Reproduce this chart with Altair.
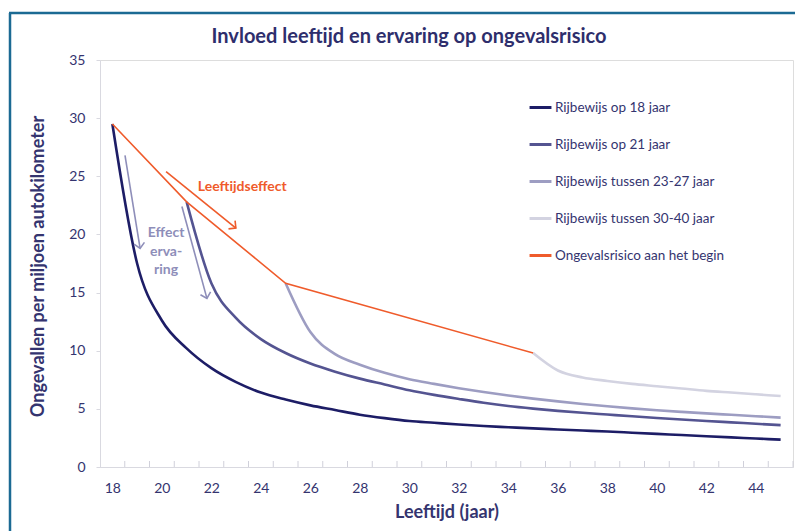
import altair as alt
import pandas as pd

# ---- data ----
series_names = [
    "Rijbewijs op 18 jaar",
    "Rijbewijs op 21 jaar",
    "Rijbewijs tussen 23-27 jaar",
    "Rijbewijs tussen 30-40 jaar",
    "Ongevalsrisico aan het begin",
]
series_colors = ["#1d1d66", "#545491", "#9d9dc2", "#d3d3e1", "#ef5b2b"]

ages_18 = list(range(18, 46))
risk_18 = [29.5, 17.5, 12.6, 10.2, 8.5, 7.3, 6.4, 5.8, 5.3, 4.9, 4.5, 4.2, 3.95,
           3.8, 3.65, 3.52, 3.42, 3.32, 3.23, 3.14, 3.05, 2.95, 2.85, 2.75, 2.65,
           2.55, 2.45, 2.35]

ages_21 = list(range(21, 46))
risk_21 = [22.8, 15.8, 12.8, 11.0, 9.8, 8.9, 8.2, 7.6, 7.1, 6.6, 6.2, 5.85, 5.52,
           5.24, 5.02, 4.83, 4.66, 4.51, 4.36, 4.22, 4.09, 3.96, 3.84, 3.72, 3.6]

ages_25 = list(range(25, 46))
risk_25 = [15.8, 11.6, 9.7, 8.8, 8.1, 7.55, 7.15, 6.78, 6.45, 6.15, 5.88, 5.64, 5.42,
           5.22, 5.04, 4.88, 4.74, 4.61, 4.49, 4.37, 4.25]

ages_35 = list(range(35, 46))
risk_35 = [9.8, 8.3, 7.7, 7.4, 7.15, 6.95, 6.75, 6.55, 6.4, 6.25, 6.1]

ages_begin = [18, 21, 25, 35]
risk_begin = [29.5, 22.8, 15.8, 9.8]

x_label_values = list(range(18, 45, 2))
x_tick_bounds = [a + 0.5 for a in range(18, 46)]
y_tick_values = [0, 5, 10, 15, 20, 25, 30, 35]

chart_title = "Invloed leeftijd en ervaring op ongevalsrisico"

# annotation arrows (start age, start value, end age, end value, colour group)
arrow_x1 = [20.17, 18.51, 20.81]
arrow_y1 = [25.4, 26.8, 22.4]
arrow_x2 = [22.99, 19.12, 21.82]
arrow_y2 = [20.55, 18.8, 14.5]
arrow_angle = [128.7, 170.8, 164.6]
arrow_group = ["leeftijd", "ervaring", "ervaring"]

NAVY = "#34346f"
ORANGE = "#ef5b2b"
LILAC = "#8e8eb9"
FONT = "Lato"

rows = []
for name, ages, vals in zip(series_names,
                            [ages_18, ages_21, ages_25, ages_35, ages_begin],
                            [risk_18, risk_21, risk_25, risk_35, risk_begin]):
    for a, v in zip(ages, vals):
        rows.append({"age": a, "risk": v, "series": name})
df = pd.DataFrame(rows)

arrows = pd.DataFrame({"x1": arrow_x1, "y1": arrow_y1, "x2": arrow_x2,
                       "y2": arrow_y2, "ang": arrow_angle, "grp": arrow_group})
ticks_df = pd.DataFrame({"b": x_tick_bounds})

x_scale = alt.Scale(domain=[17.5, 45.5], nice=False, zero=False)
y_scale = alt.Scale(domain=[0, 35], nice=False)
color_scale = alt.Scale(domain=series_names, range=series_colors)
arrow_scale = alt.Scale(domain=["leeftijd", "ervaring"], range=[ORANGE, LILAC])

x_enc = alt.X("age:Q", scale=x_scale,
              axis=alt.Axis(values=x_label_values, title="Leeftijd (jaar)", ticks=False,
                            tickSize=0, grid=False, labelPadding=14, titlePadding=8,
                            domainColor="#d9d9e0", labelFontSize=14, labelColor=NAVY,
                            titleFontSize=18, titleColor=NAVY, labelFont=FONT,
                            titleFont=FONT, titleFontWeight="bold"))
y_enc = alt.Y("risk:Q", scale=y_scale,
              axis=alt.Axis(values=y_tick_values, title="Ongevallen per miljoen autokilometer",
                            grid=False, tickSize=4, tickColor="#d9d9e0", labelPadding=11,
                            domainColor="#d9d9e0", labelFontSize=14, labelColor=NAVY,
                            titleFontSize=18, titleColor=NAVY, labelFont=FONT,
                            titleFont=FONT, titleFontWeight="bold", titleX=-53,
                            titleY=206, titleBaseline="bottom"))

color_enc = alt.Color("series:N", scale=color_scale,
                      legend=alt.Legend(title=None, orient="none", legendX=428, legendY=35,
                                        symbolType="stroke", symbolSize=480,
                                        symbolStrokeWidth=3, labelFontSize=13.5,
                                        labelColor=NAVY, labelFont=FONT, rowPadding=18,
                                        labelOffset=2, labelLimit=400))

base = alt.Chart(df)

curves = base.mark_line(interpolate="monotone", strokeWidth=2.6).encode(
    x=x_enc, y=y_enc, color=color_enc, detail="series:N"
).transform_filter(alt.datum.series != series_names[4])

begin = base.mark_line(strokeWidth=1.6).encode(
    x=alt.X("age:Q", scale=x_scale), y=alt.Y("risk:Q", scale=y_scale),
    color=alt.Color("series:N", scale=color_scale)
).transform_filter(alt.datum.series == series_names[4])

xticks = alt.Chart(ticks_df).mark_rule(color="#d0d0da", strokeWidth=1).encode(
    x=alt.X("b:Q", scale=x_scale), y=alt.value(401), y2=alt.value(407)
)

arrow_shafts = alt.Chart(arrows).mark_rule(strokeWidth=1.6).encode(
    x=alt.X("x1:Q", scale=x_scale), y=alt.Y("y1:Q", scale=y_scale),
    x2="x2:Q", y2="y2:Q",
    stroke=alt.Stroke("grp:N", scale=arrow_scale, legend=None)
)
arrow_heads = alt.Chart(arrows).mark_point(
    shape="M -1 1 L 0 0 L 1 1", filled=False, strokeWidth=1.6, size=110, opacity=1
).encode(
    x=alt.X("x2:Q", scale=x_scale), y=alt.Y("y2:Q", scale=y_scale),
    angle=alt.Angle("ang:Q", scale=None),
    stroke=alt.Stroke("grp:N", scale=arrow_scale, legend=None)
)

label_df = pd.DataFrame({"x": [21.45], "y": [24.1], "t": ["Leeftijdseffect"]})
label_age = alt.Chart(label_df).mark_text(
    align="left", baseline="middle", font=FONT, fontSize=14, fontWeight="bold",
    color=ORANGE
).encode(x=alt.X("x:Q", scale=x_scale), y=alt.Y("y:Q", scale=y_scale), text="t:N")

label2_df = pd.DataFrame({"x": [20.17], "y": [20.1]})
label_exp = alt.Chart(label2_df).mark_text(
    align="center", baseline="middle", font=FONT, fontSize=14, fontWeight="bold",
    color=LILAC, lineHeight=18.5, text=["Effect", "erva-", "ring"]
).encode(x=alt.X("x:Q", scale=x_scale), y=alt.Y("y:Q", scale=y_scale))

title_df = pd.DataFrame({"t": [chart_title]})
title_mark = alt.Chart(title_df).mark_text(
    align="center", baseline="middle", font=FONT, fontSize=20, fontWeight="bold",
    color="#2e2e6c"
).encode(x=alt.value(309), y=alt.value(-23), text="t:N")

frame_left = alt.Chart(label_df).mark_rule(color="#1b6a93", strokeWidth=2.5).encode(
    x=alt.value(-90), y=alt.value(-47), y2=alt.value(480)
)
frame_top = alt.Chart(label_df).mark_rule(color="#1b6a93", strokeWidth=2.5).encode(
    x=alt.value(-91), x2=alt.value(720), y=alt.value(-47)
)

chart = alt.layer(
    frame_left, frame_top, title_mark, xticks, curves, begin, arrow_shafts, arrow_heads,
    label_age, label_exp
).properties(
    width=693, height=407,
    autosize=alt.AutoSizeParams(type="none"),
    padding={"left": 92, "top": 52, "right": 2, "bottom": 64},
).configure_view(strokeWidth=0).configure(background="white")

chart.save("out.html", embed_options={"renderer": "svg", "actions": False})
